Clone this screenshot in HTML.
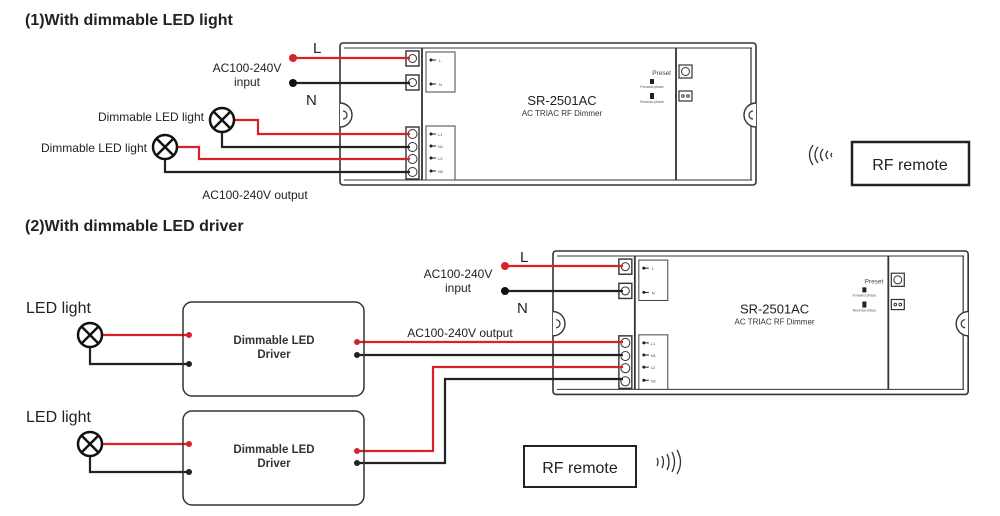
<!DOCTYPE html>
<html><head><meta charset="utf-8"><style>
html,body{margin:0;padding:0;background:#fff;}
svg{display:block;font-family:"Liberation Sans",Arial,sans-serif;}
</style></head><body>
<svg width="1000" height="516" viewBox="0 0 1000 516" xmlns="http://www.w3.org/2000/svg">
<defs>
<g id="dev">
  <rect x="0" y="0" width="416" height="142" rx="3" fill="#fff" stroke="#333" stroke-width="1.6"/>
  <line x1="4" y1="5" x2="412" y2="5" stroke="#333" stroke-width="1"/>
  <line x1="4" y1="137" x2="412" y2="137" stroke="#333" stroke-width="1"/>
  <line x1="82" y1="5" x2="82" y2="137" stroke="#333" stroke-width="1.8"/>
  <line x1="336" y1="5" x2="336" y2="137" stroke="#333" stroke-width="1.8"/>
  <line x1="411" y1="5" x2="411" y2="137" stroke="#333" stroke-width="1.2"/>
  <path d="M0 60 A12 12 0 0 1 0 84" fill="#fff" stroke="#333" stroke-width="1.4"/>
  <path d="M3 68 A4 4 0 0 1 3 76" fill="none" stroke="#333" stroke-width="1.2"/>
  <path d="M416 60 A12 12 0 0 0 416 84" fill="#fff" stroke="#333" stroke-width="1.4"/>
  <path d="M413 68 A4 4 0 0 0 413 76" fill="none" stroke="#333" stroke-width="1.2"/>
  <rect x="66" y="8" width="13" height="15" fill="#fff" stroke="#333" stroke-width="1.4"/>
  <circle cx="72.5" cy="15.5" r="4" fill="none" stroke="#333"/>
  <rect x="66" y="32" width="13" height="15" fill="#fff" stroke="#333" stroke-width="1.4"/>
  <circle cx="72.5" cy="39.5" r="4" fill="none" stroke="#333"/>
  <rect x="66" y="84" width="13" height="52" fill="#fff" stroke="#333" stroke-width="1.4"/>
  <circle cx="72.5" cy="91" r="4.5" fill="none" stroke="#333"/>
  <circle cx="72.5" cy="104" r="4.5" fill="none" stroke="#333"/>
  <circle cx="72.5" cy="116" r="4.5" fill="none" stroke="#333"/>
  <circle cx="72.5" cy="129" r="4.5" fill="none" stroke="#333"/>
  <rect x="86" y="9" width="29" height="40" fill="#fff" stroke="#444"/>
  <circle cx="91" cy="17" r="1.5" fill="#222"/><line x1="91" y1="17" x2="96" y2="17" stroke="#222"/>
  <circle cx="91" cy="41" r="1.5" fill="#222"/><line x1="91" y1="41" x2="96" y2="41" stroke="#222"/>
  <text x="99" y="19" font-size="4" fill="#444">L</text><text x="99" y="43" font-size="4" fill="#444">N</text>
  <rect x="86" y="83" width="29" height="54" fill="#fff" stroke="#444"/>
  <g fill="#222"><circle cx="91" cy="91" r="1.5"/><circle cx="91" cy="103" r="1.5"/><circle cx="91" cy="115" r="1.5"/><circle cx="91" cy="128" r="1.5"/></g>
  <g stroke="#222"><line x1="91" y1="91" x2="96" y2="91"/><line x1="91" y1="103" x2="96" y2="103"/><line x1="91" y1="115" x2="96" y2="115"/><line x1="91" y1="128" x2="96" y2="128"/></g>
  <g font-size="4" fill="#444"><text x="98" y="93">L1</text><text x="98" y="105">N1</text><text x="98" y="117">L2</text><text x="98" y="130">N2</text></g>
  <text x="222" y="62" font-size="13" text-anchor="middle" fill="#222">SR-2501AC</text>
  <text x="222" y="73" font-size="8" text-anchor="middle" fill="#333">AC TRIAC RF Dimmer</text>
  <text x="331" y="32" font-size="6.5" text-anchor="end" fill="#444">Preset</text>
  <rect x="339" y="22" width="13" height="13" fill="#fff" stroke="#333" stroke-width="1.2"/>
  <circle cx="345.5" cy="28.5" r="4" fill="none" stroke="#333"/>
  <rect x="339" y="48" width="13" height="10" fill="#fff" stroke="#333" stroke-width="1.2"/>
  <circle cx="343" cy="53" r="1.3" fill="none" stroke="#333"/><circle cx="348" cy="53" r="1.3" fill="none" stroke="#333"/>
  <rect x="310" y="36" width="4" height="5" fill="#222"/>
  <rect x="310" y="50" width="4" height="6" fill="#222"/>
  <text x="312" y="45" font-size="3.5" text-anchor="middle" fill="#555">Forward-phase</text>
  <text x="312" y="60" font-size="3.5" text-anchor="middle" fill="#555">Reverse-phase</text>
</g>
<g id="lamp">
  <circle cx="0" cy="0" r="12" fill="#fff" stroke="#111" stroke-width="2.5"/>
  <line x1="-8.5" y1="-8.5" x2="8.5" y2="8.5" stroke="#111" stroke-width="2.5"/>
  <line x1="-8.5" y1="8.5" x2="8.5" y2="-8.5" stroke="#111" stroke-width="2.5"/>
</g>
</defs>

<text x="25" y="25" font-size="16" font-weight="bold" fill="#222">(1)With dimmable LED light</text>
<text x="25" y="231" font-size="16" font-weight="bold" fill="#222">(2)With dimmable LED driver</text>

<!-- top section -->
<use href="#dev" transform="translate(340,43)"/>
<g fill="none" stroke-width="2.2">
  <polyline points="293,58 410,58" stroke="#d8222a"/>
  <polyline points="293,83 410,83" stroke="#222"/>
  <polyline points="234,120 258,120 258,134 410,134" stroke="#d8222a"/>
  <polyline points="222,132 222,147 410,147" stroke="#222"/>
  <polyline points="177,147 199,147 199,159 410,159" stroke="#d8222a"/>
  <polyline points="165,159 165,172 410,172" stroke="#222"/>
</g>
<circle cx="293" cy="58" r="4" fill="#d8222a"/>
<circle cx="293" cy="83" r="4" fill="#111"/>
<use href="#lamp" x="222" y="120"/>
<use href="#lamp" x="165" y="147"/>
<text x="313" y="53" font-size="15" fill="#222">L</text>
<text x="306" y="105" font-size="15" fill="#222">N</text>
<text x="247" y="72" font-size="12" text-anchor="middle" fill="#222">AC100-240V</text>
<text x="247" y="86" font-size="12" text-anchor="middle" fill="#222">input</text>
<text x="204" y="121" font-size="12" text-anchor="end" fill="#222">Dimmable LED light</text>
<text x="147" y="152" font-size="12" text-anchor="end" fill="#222">Dimmable LED light</text>
<text x="255" y="199" font-size="12" text-anchor="middle" fill="#222">AC100-240V output</text>

<g fill="none" stroke="#333" stroke-width="1.3">
  <path d="M813 145 Q806 155 813 165"/><path d="M818 147 Q812 155 818 163"/><path d="M823 149 Q818 155 823 161"/><path d="M828 151 Q824 155 828 159"/><path d="M832 153 Q830 155 832 157"/>
</g>
<rect x="852" y="142" width="117" height="43" fill="#fff" stroke="#222" stroke-width="2.5"/>
<text x="910" y="170" font-size="16" text-anchor="middle" fill="#222">RF remote</text>

<!-- bottom section -->
<use href="#dev" transform="translate(553,251) scale(0.998,1.01)"/>
<g fill="none" stroke-width="2.2">
  <polyline points="505,266 623,266" stroke="#d8222a"/>
  <polyline points="505,291 623,291" stroke="#222"/>
  <polyline points="357,342 623,342" stroke="#d8222a"/>
  <polyline points="357,355 623,355" stroke="#222"/>
  <polyline points="357,451 433,451 433,367 623,367" stroke="#d8222a"/>
  <polyline points="357,463 445,463 445,379 623,379" stroke="#222"/>
  <polyline points="103,335 189,335" stroke="#d8222a"/>
  <polyline points="90,348 90,364 189,364" stroke="#222"/>
  <polyline points="103,444 189,444" stroke="#d8222a"/>
  <polyline points="90,457 90,472 189,472" stroke="#222"/>
</g>
<circle cx="505" cy="266" r="4" fill="#d8222a"/>
<circle cx="505" cy="291" r="4" fill="#111"/>
<text x="520" y="262" font-size="15" fill="#222">L</text>
<text x="517" y="313" font-size="15" fill="#222">N</text>
<text x="458" y="278" font-size="12" text-anchor="middle" fill="#222">AC100-240V</text>
<text x="458" y="292" font-size="12" text-anchor="middle" fill="#222">input</text>
<text x="460" y="337" font-size="12" text-anchor="middle" fill="#222">AC100-240V output</text>

<rect x="183" y="302" width="181" height="94" rx="9" fill="none" stroke="#333" stroke-width="1.5"/>
<rect x="183" y="411" width="181" height="94" rx="9" fill="none" stroke="#333" stroke-width="1.5"/>
<text x="274" y="344" font-size="11.5" font-weight="bold" text-anchor="middle" fill="#333">Dimmable LED</text>
<text x="274" y="358" font-size="11.5" font-weight="bold" text-anchor="middle" fill="#333">Driver</text>
<text x="274" y="453" font-size="11.5" font-weight="bold" text-anchor="middle" fill="#333">Dimmable LED</text>
<text x="274" y="467" font-size="11.5" font-weight="bold" text-anchor="middle" fill="#333">Driver</text>
<g>
  <circle cx="189" cy="335" r="3" fill="#d8222a"/><circle cx="189" cy="364" r="3" fill="#222"/>
  <circle cx="189" cy="444" r="3" fill="#d8222a"/><circle cx="189" cy="472" r="3" fill="#222"/>
  <circle cx="357" cy="342" r="3" fill="#d8222a"/><circle cx="357" cy="355" r="3" fill="#222"/>
  <circle cx="357" cy="451" r="3" fill="#d8222a"/><circle cx="357" cy="463" r="3" fill="#222"/>
</g>
<use href="#lamp" x="90" y="335"/>
<use href="#lamp" x="90" y="444"/>
<text x="26" y="313" font-size="16" fill="#222">LED light</text>
<text x="26" y="422" font-size="16" fill="#222">LED light</text>

<rect x="524" y="446" width="112" height="41" fill="#fff" stroke="#222" stroke-width="2"/>
<text x="580" y="473" font-size="16" text-anchor="middle" fill="#222">RF remote</text>
<g fill="none" stroke="#333" stroke-width="1.3">
  <path d="M657 458 Q659 462 657 466"/><path d="M662 456 Q665 462 662 468"/><path d="M667 454 Q671 462 667 470"/><path d="M672 452 Q677 462 672 472"/><path d="M677 450 Q684 462 677 474"/>
</g>
</svg>
</body></html>
